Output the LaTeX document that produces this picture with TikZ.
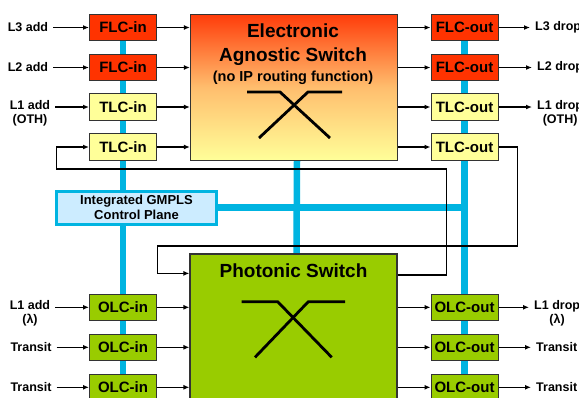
\documentclass[tikz,border=0pt]{standalone}
\usepackage{fontspec}
\setmainfont{Liberation Sans}
\usetikzlibrary{arrows.meta,backgrounds}
\definecolor{flcred}{RGB}{255,51,0}
\definecolor{esred}{RGB}{255,60,10}
\definecolor{esorange}{RGB}{255,190,110}
\definecolor{tlcyellow}{RGB}{255,255,153}
\definecolor{olcgreen}{RGB}{153,204,0}
\definecolor{busblue}{RGB}{0,180,225}
\definecolor{cpblue}{RGB}{204,236,255}
\definecolor{boxgray}{RGB}{51,51,51}

\begin{document}
\begin{tikzpicture}[
    x=1pt, y=-1pt,
    card/.style={draw=boxgray, line width=1pt, minimum width=67pt, minimum height=26.5pt, inner sep=0pt, font=\fontsize{15}{17}\selectfont\bfseries},
    flc/.style={card, fill=flcred},
    tlc/.style={card, fill=tlcyellow},
    olc/.style={card, fill=olcgreen},
    switchbox/.style={draw=boxgray, line width=1.2pt, minimum width=207pt},
    title/.style={anchor=base, font=\fontsize{19}{21}\selectfont\bfseries},
    lbl/.style={align=center, inner xsep=5pt, inner ysep=1pt, font=\fontsize{12.5}{14}\selectfont\bfseries},
    edge/.style={-{Latex[length=6pt,width=5pt]}, line width=1.3pt},
    bus/.style={busblue, line width=6.5pt},
    xbar/.style={line width=2.8pt}
]
    \useasboundingbox (0,0) rectangle (579,397);

    % 交换
    \node[switchbox, minimum height=146pt, top color=esred, bottom color=tlcyellow, middle color=esorange] (es) at (294,87.5) {};
    \node[title] (estitle1) at (293,37.3) {Electronic};
    \node[title] (estitle2) at (293,61.7) {Agnostic Switch};
    \node[anchor=base, font=\fontsize{14.5}{16}\selectfont\bfseries] (esnote) at (293,81.7) {(no IP routing function)};
    \node[switchbox, minimum height=156pt, fill=olcgreen] (ps) at (293.5,332) {};
    \node[title] (pstitle) at (293.5,277.3) {Photonic Switch};
    \node[draw=busblue, line width=3pt, fill=cpblue, minimum width=160pt, minimum height=33pt, align=center, font=\fontsize{13}{15.5}\selectfont\bfseries] (gmpls) at (136.5,207.5) {Integrated GMPLS\\Control Plane};

    % 线卡
    \node[flc] (fin1) at (123,27.5) {FLC-in};
    \node[flc] (fin2) at (123,67.5) {FLC-in};
    \node[tlc] (tin1) at (123,107) {TLC-in};
    \node[tlc] (tin2) at (123,147) {TLC-in};
    \node[olc] (oin1) at (123,307.3) {OLC-in};
    \node[olc] (oin2) at (123,347.3) {OLC-in};
    \node[olc] (oin3) at (123,387.3) {OLC-in};
    \node[flc] (fout1) at (464.5,27.5) {FLC-out};
    \node[flc] (fout2) at (464.5,67.5) {FLC-out};
    \node[tlc] (tout1) at (464.5,107) {TLC-out};
    \node[tlc] (tout2) at (464.5,147) {TLC-out};
    \node[olc] (oout1) at (464.5,307.3) {OLC-out};
    \node[olc] (oout2) at (464.5,347.3) {OLC-out};
    \node[olc] (oout3) at (464.5,387.3) {OLC-out};

    % 标签
    \node[lbl] (l3add) at (28,27.5) {L3 add};
    \node[lbl] (l2add) at (28,67.5) {L2 add};
    \node[lbl] (l1add) at (30,113) {L1 add\\(OTH)};
    \node[lbl] (l1addw) at (30,313.3) {L1 add\\(λ)};
    \node[lbl] (trin1) at (31,347.3) {Transit};
    \node[lbl] (trin2) at (31,387.3) {Transit};
    \node[lbl, anchor=west] (l3drop) at (530,27.5) {L3 drop};
    \node[lbl, anchor=west] (l2drop) at (532,67.5) {L2 drop};
    \node[lbl, anchor=west] (l1drop) at (532,113) {L1 drop\\(OTH)};
    \node[lbl, anchor=west] (l1dropw) at (529,313.3) {L1 drop\\(λ)};
    \node[lbl, anchor=west] (trout1) at (531,347.3) {Transit};
    \node[lbl, anchor=west] (trout2) at (531,387.3) {Transit};

    % 控制总线
    \begin{pgfonlayer}{background}
        \draw[bus] (fin1.center) -- (oin3.center);
        \draw[bus] (fout1.center) -- (oout3.center);
        \draw[bus] ([xshift=3pt]es.south) -- ([xshift=3pt]ps.north);
        \draw[bus] (gmpls.center) -- (gmpls -| fout1);
    \end{pgfonlayer}

    % 连线
    \draw[edge] (l3add) -- (fin1);
    \draw[edge] (l2add) -- (fin2);
    \draw[edge] (l1add.east |- tin1) -- (tin1);
    \draw[edge] (l1addw.east |- oin1) -- (oin1);
    \draw[edge] (trin1) -- (oin2);
    \draw[edge] (trin2) -- (oin3);
    \foreach \c in {fin1,fin2,tin1,tin2}
        \draw[edge] (\c) -- (\c -| es.west);
    \foreach \c in {fout1,fout2,tout1,tout2}
        \draw[edge] (es.east |- \c) -- (\c);
    \foreach \c in {oin1,oin2,oin3}
        \draw[edge] (\c) -- (\c -| ps.west);
    \foreach \c in {oout1,oout2,oout3}
        \draw[edge] (ps.east |- \c) -- (\c);
    \draw[edge] (fout1) -- (l3drop);
    \draw[edge] (fout2) -- (l2drop);
    \draw[edge] (tout1) -- (tout1 -| l1drop.west);
    \draw[edge] (oout1) -- (oout1 -| l1dropw.west);
    \draw[edge] (oout2) -- (trout1);
    \draw[edge] (oout3) -- (trout2);

    % 环回
    \coordinate (ua) at (446.7,169);
    \coordinate (va) at (56.5,169);
    \coordinate (ub) at (517.7,246);
    \coordinate (vb) at (157.7,246);
    \draw[edge] ([yshift=-21.5pt]ps.north east) -| (ua) -- (va) |- (tin2);
    \draw[edge] (tout2) -| (ub) -- (vb) |- ([yshift=-20pt]ps.north west);

    % 交叉符号
    \draw[xbar] (247,92) -- (280,92) -- (330,138);
    \draw[xbar] (342,92) -- (308,92) -- (259,138);
    \draw[xbar] (241.7,301.7) -- (277.7,301.7) -- (331.7,357.3);
    \draw[xbar] (345,301.7) -- (308.3,301.7) -- (255,357.3);
\end{tikzpicture}
\end{document}
